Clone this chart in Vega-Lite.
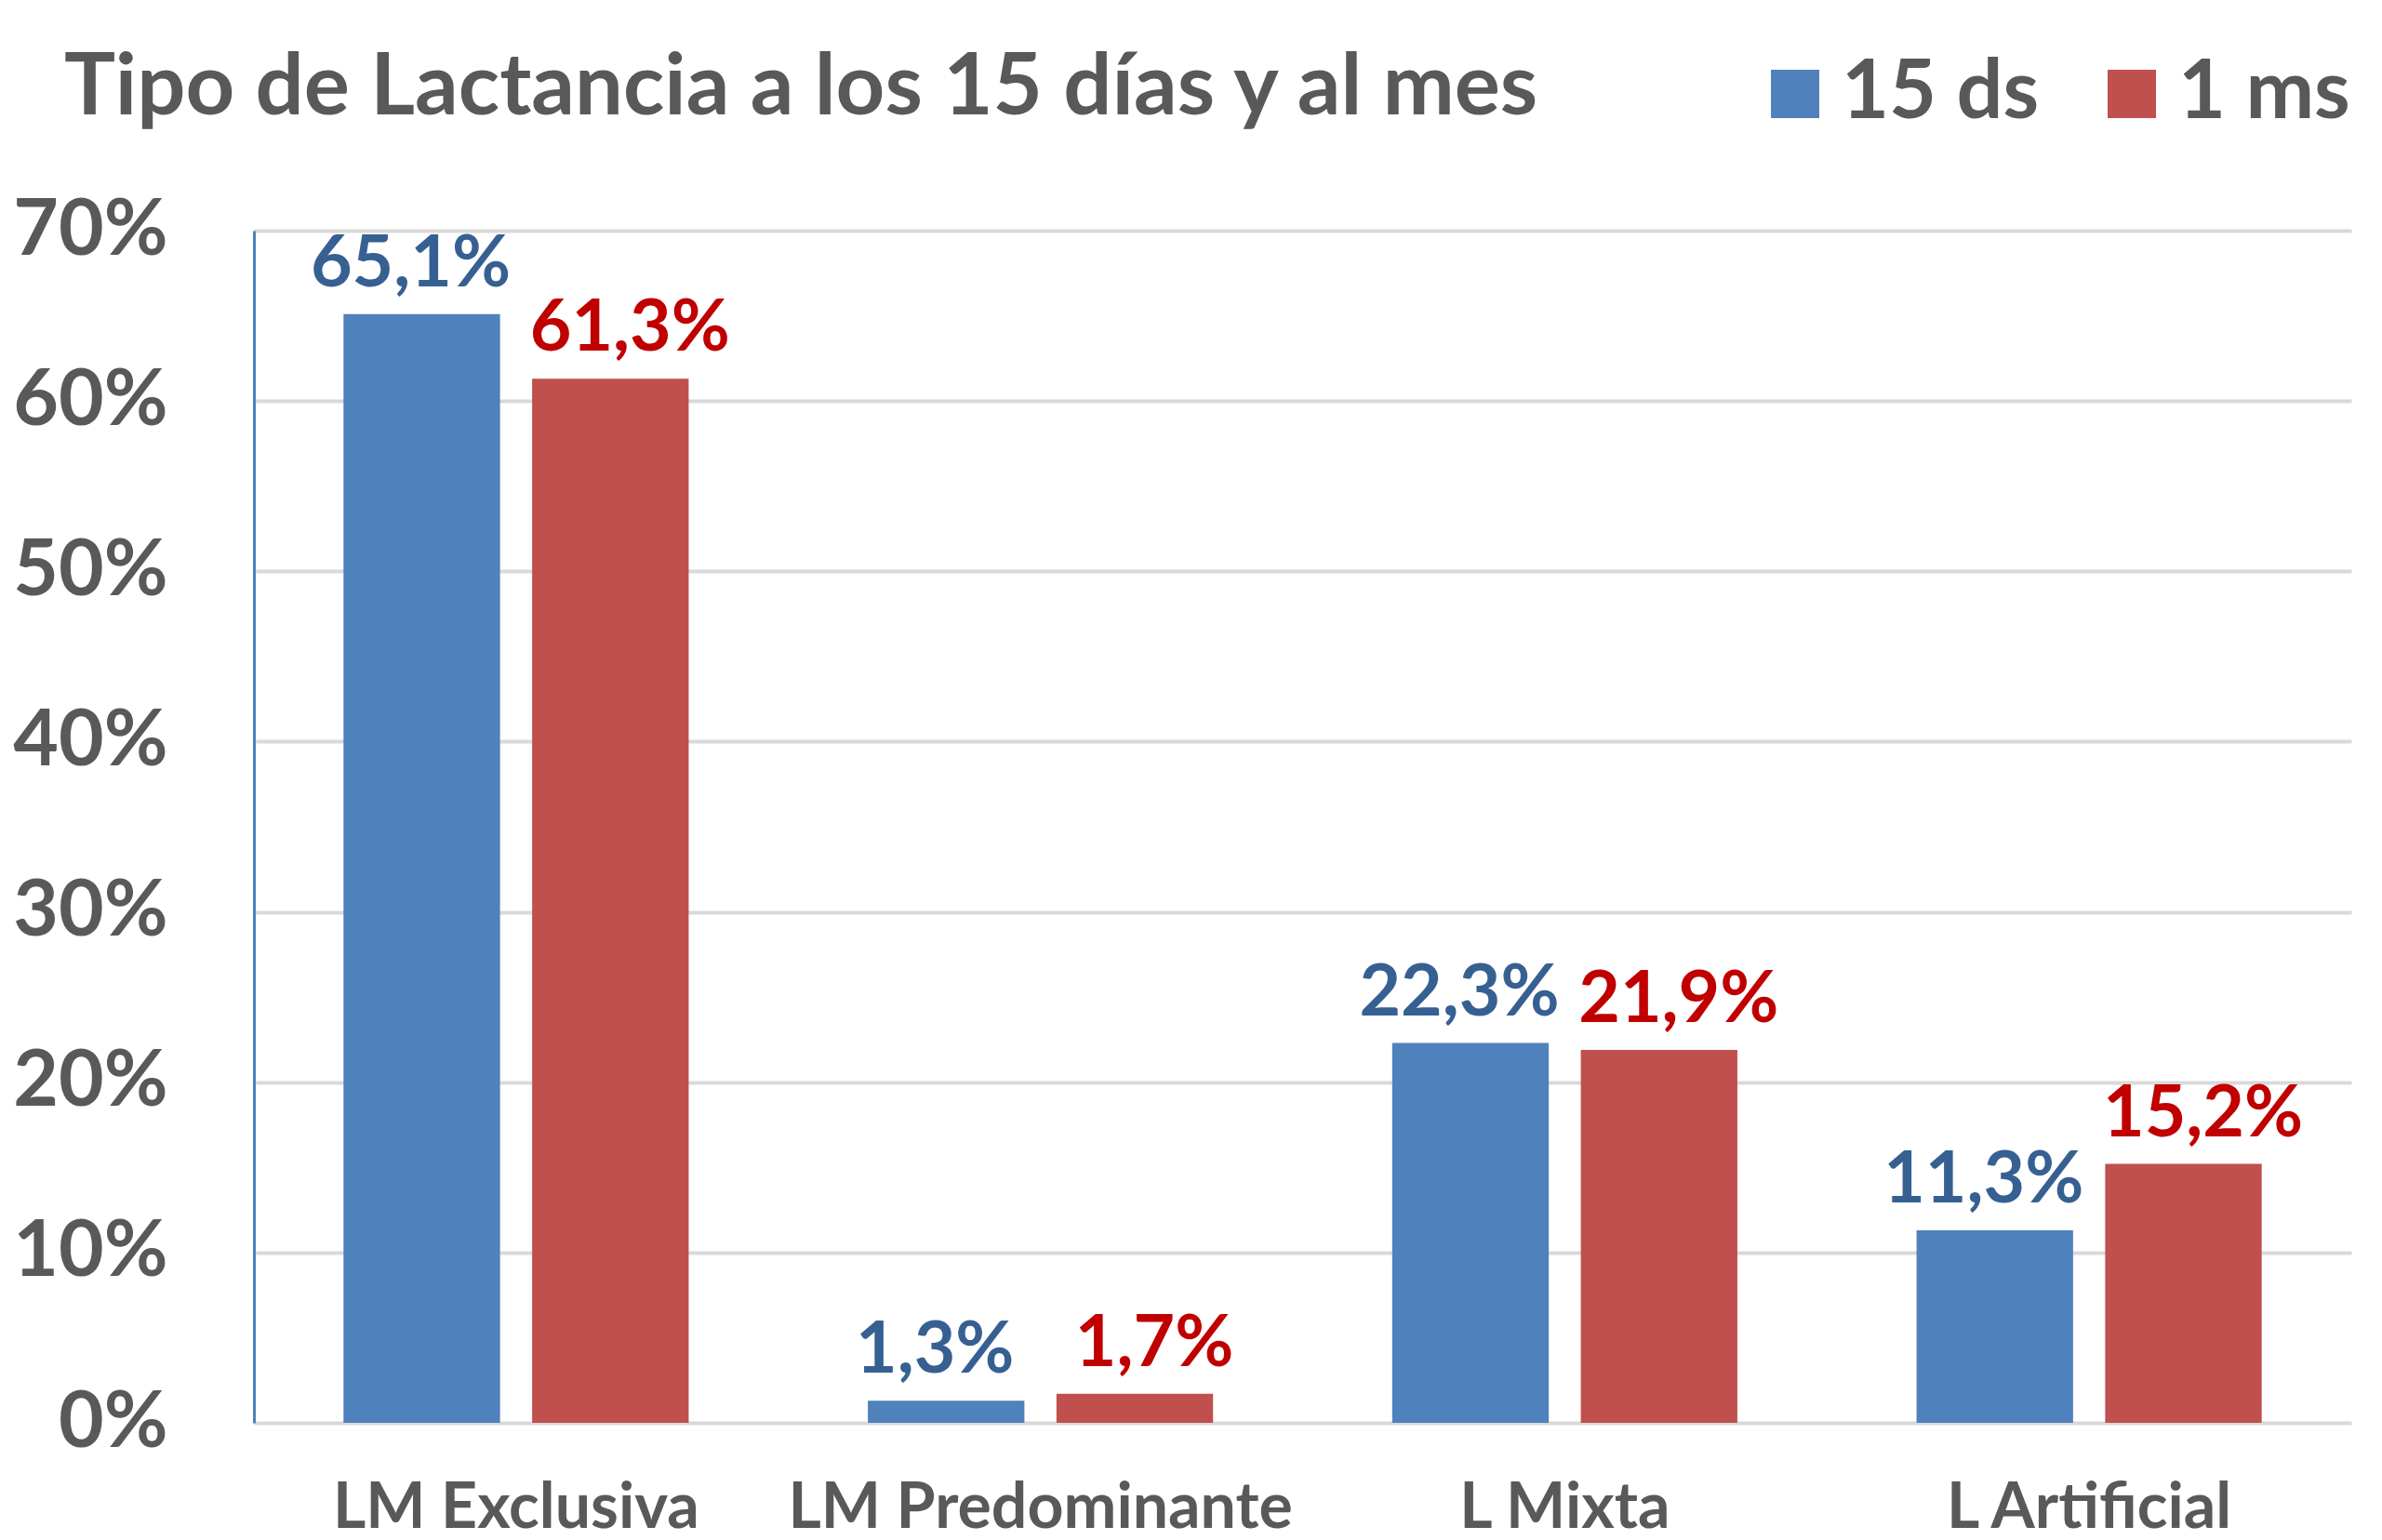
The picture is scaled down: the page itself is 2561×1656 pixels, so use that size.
{
  "$schema": "https://vega.github.io/schema/vega-lite/v6.json",
  "width": 2255,
  "height": 1282,
  "autosize": {"type": "none"},
  "padding": {"left": 273, "top": 248, "right": 33, "bottom": 126},
  "background": "white",
  "title": {
    "text": "Tipo de Lactancia a los 15 días y al mes",
    "anchor": "start",
    "frame": "group",
    "dx": -204,
    "offset": -158,
    "baseline": "alphabetic",
    "font": "Lato",
    "fontSize": 92,
    "fontWeight": "bold",
    "color": "#595959"
  },
  "config": {
    "locale": {"number": {"decimal": ",", "thousands": ".", "grouping": [3], "currency": ["", " €"]}},
    "view": {"stroke": null},
    "font": "Lato"
  },
  "data": {
    "values": [
      {"tipo": "LM Exclusiva", "periodo": "15 ds", "valor": 0.651},
      {"tipo": "LM Exclusiva", "periodo": "1 ms", "valor": 0.613},
      {"tipo": "LM Predominante", "periodo": "15 ds", "valor": 0.013},
      {"tipo": "LM Predominante", "periodo": "1 ms", "valor": 0.017},
      {"tipo": "L Mixta", "periodo": "15 ds", "valor": 0.223},
      {"tipo": "L Mixta", "periodo": "1 ms", "valor": 0.219},
      {"tipo": "L Artificial", "periodo": "15 ds", "valor": 0.113},
      {"tipo": "L Artificial", "periodo": "1 ms", "valor": 0.152}
    ]
  },
  "encoding": {
    "x": {
      "field": "tipo",
      "type": "nominal",
      "sort": ["LM Exclusiva", "LM Predominante", "L Mixta", "L Artificial"],
      "scale": {"paddingInner": 0, "paddingOuter": 0},
      "axis": {
        "title": null,
        "domain": false,
        "ticks": false,
        "labelAngle": 0,
        "labelPadding": 112,
        "labelBaseline": "alphabetic",
        "labelFontSize": 68,
        "labelFontWeight": "bold",
        "labelColor": "#595959",
        "labelLimit": 0
      }
    },
    "xOffset": {
      "field": "periodo",
      "type": "nominal",
      "sort": ["15 ds", "1 ms"],
      "scale": {"paddingInner": 0.17, "paddingOuter": 0.475}
    },
    "y": {
      "field": "valor",
      "type": "quantitative",
      "scale": {"domain": [0, 0.7], "nice": false},
      "axis": {
        "title": null,
        "format": ".0%",
        "values": [0, 0.1, 0.2, 0.3, 0.4, 0.5, 0.6, 0.7],
        "domainColor": "#4F81BD",
        "domainWidth": 3,
        "ticks": false,
        "labelPadding": 93,
        "labelFontSize": 84,
        "labelFontWeight": "bold",
        "labelColor": "#595959",
        "labelBaseline": "middle",
        "labelLimit": 0,
        "gridColor": "#D9D9D9",
        "gridWidth": 4
      }
    }
  },
  "layer": [
    {
      "mark": {"type": "bar"},
      "encoding": {
        "color": {
          "field": "periodo",
          "type": "nominal",
          "sort": ["15 ds", "1 ms"],
          "scale": {"domain": ["15 ds", "1 ms"], "range": ["#4F81BD", "#C0504D"]},
          "legend": {
            "title": null,
            "orient": "none",
            "direction": "horizontal",
            "legendX": 1613,
            "legendY": -191,
            "symbolType": "square",
            "symbolSize": 2704,
            "symbolStrokeWidth": 0,
            "labelFontSize": 88,
            "labelFontWeight": "bold",
            "labelColor": "#595959",
            "labelOffset": 6,
            "columnPadding": 55,
            "labelLimit": 0
          }
        }
      }
    },
    {
      "transform": [{"filter": "datum.periodo === '15 ds'"}],
      "mark": {"type": "text", "baseline": "alphabetic", "dy": -30, "dx": -12, "fontSize": 77, "fontWeight": "bold", "color": "#376092"},
      "encoding": {"text": {"field": "valor", "type": "quantitative", "format": ".1%"}}
    },
    {
      "transform": [{"filter": "datum.periodo === '1 ms'"}],
      "mark": {"type": "text", "baseline": "alphabetic", "dy": -30, "dx": 21, "fontSize": 77, "fontWeight": "bold", "color": "#C00000"},
      "encoding": {"text": {"field": "valor", "type": "quantitative", "format": ".1%"}}
    }
  ]
}
